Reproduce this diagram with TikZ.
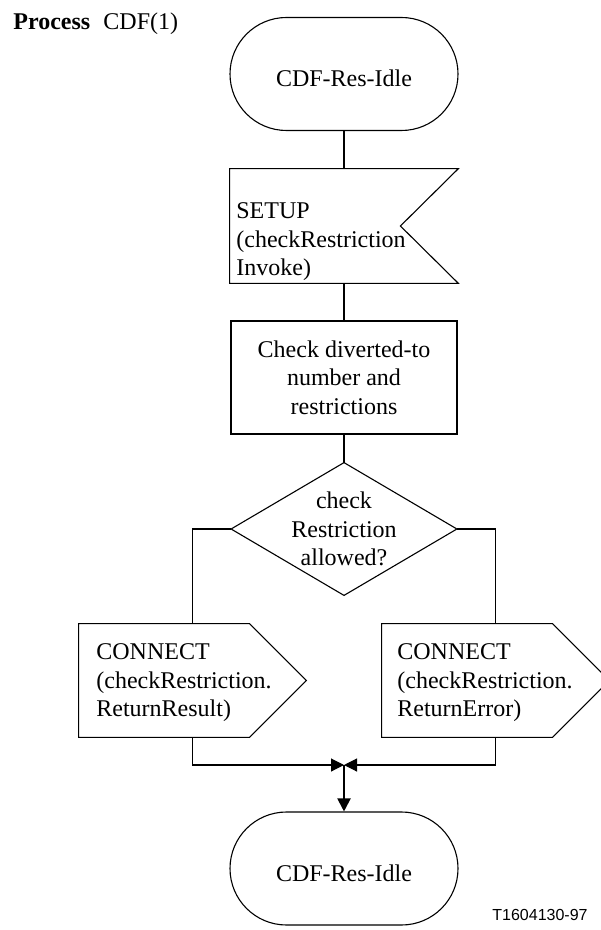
\documentclass[tikz,border=0pt]{standalone}
\usepackage{fontspec}
\setmainfont{Liberation Serif}
\newfontfamily\arialfont{Liberation Sans}
\usetikzlibrary{shapes.misc,arrows.meta,calc}
\begin{document}
\begin{tikzpicture}[x=0.5pt,y=-0.5pt,
  every node/.style={font=\fontsize{12}{14.2}\selectfont},
  outline/.style={draw, line width=0.55pt},
  conn/.style={line width=1pt},
  thinconn/.style={line width=0.55pt},
  state/.style={rounded rectangle, draw, line width=0.55pt, minimum width=114pt, minimum height=56.5pt, text height=13pt, text depth=0pt, inner sep=0pt},
  frame/.style={rectangle, inner sep=0pt},
  txt/.style={inner sep=0pt, align=left},
  tip/.style={-{Triangle[length=6.5pt,width=6.5pt]}}
]
\useasboundingbox (0,0) rectangle (600,930);

\node[anchor=base west, inner sep=0pt] (title) at (13,30) {\textbf{Process}\hspace{0.55em}CDF(1)};

\node[state] (s1) at (344,74) {CDF-Res-Idle};

\node[frame, minimum width=114pt, minimum height=57pt] (setup) at (344,226) {};
\draw[outline] (setup.north west) -- (setup.north east) -- ($(setup.east)+(-58,0)$) -- (setup.south east) -- (setup.south west) -- cycle;
\node[txt, anchor=west] (setuptxt) at (236,242) {SETUP\\(checkRestriction\\Invoke)};

\node[rectangle, draw, line width=0.55pt, minimum width=113pt, minimum height=56.5pt, align=center, inner sep=0pt] (check) at (344,377.5) {Check diverted-to\\number and\\restrictions};

\node[frame, minimum width=112.5pt, minimum height=66pt] (dec) at (344,529) {};
\draw[outline] (dec.north) -- (dec.east) -- (dec.south) -- (dec.west) -- cycle;
\node[inner sep=0pt, align=center] (dectxt) at (344,529) {check\\Restriction\\allowed?};

\node[frame, minimum width=113.5pt, minimum height=56.5pt] (out1) at (192.5,680.5) {};
\draw[outline] (out1.north west) -- ($(out1.north east)+(-57,0)$) -- (out1.east) -- ($(out1.south east)+(-57,0)$) -- (out1.south west) -- cycle;
\node[txt, anchor=west] (out1txt) at (96,683) {CONNECT\\(checkRestriction.\\ReturnResult)};

\node[frame, minimum width=113.5pt, minimum height=56.5pt] (out2) at (495.5,680.5) {};
\draw[outline] (out2.north west) -- ($(out2.north east)+(-57,0)$) -- (out2.east) -- ($(out2.south east)+(-57,0)$) -- (out2.south west) -- cycle;
\node[txt, anchor=west] (out2txt) at (397,683) {CONNECT\\(checkRestriction.\\ReturnError)};

\node[state] (s2) at (344,868.5) {CDF-Res-Idle};

\coordinate (m) at (344,765);

\draw[conn] (s1.south) -- (setup.north);
\draw[conn] (setup.south) -- (check.north);
\draw[conn] (check.south) -- (dec.north);
\draw[thinconn] (dec.west) -| (out1.north);
\draw[thinconn] (dec.east) -| (out2.north);
\draw[thinconn, tip] (out1.south) |- (m);
\draw[thinconn, tip] (out2.south) |- (m);
\draw[conn, tip] (m) -- (s2.north);

\node[anchor=base east, inner sep=0pt, font=\arialfont\fontsize{8}{9.6}\selectfont] (tag) at (588,920) {T1604130-97};
\end{tikzpicture}
\end{document}
